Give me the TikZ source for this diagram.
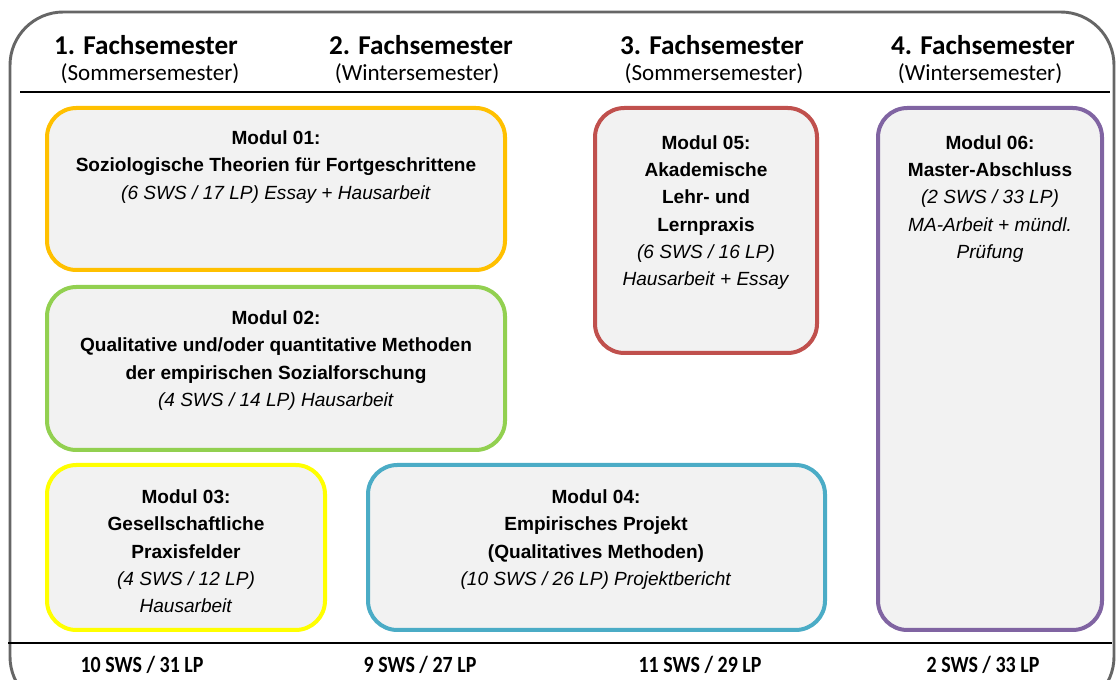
\documentclass[tikz,border=0pt]{standalone}
\usepackage{fontspec}
\setmainfont{Liberation Sans}
\newfontfamily\calibri{Carlito}
\newfontfamily\calibricond[FakeStretch=0.86]{Carlito}
\newfontfamily\arialmod{Liberation Sans}
\usetikzlibrary{fit}
\definecolor{orangeM}{HTML}{FFC000}
\definecolor{greenM}{HTML}{92D050}
\definecolor{yellowM}{HTML}{FFFF00}
\definecolor{blueM}{HTML}{4BACC6}
\definecolor{redM}{HTML}{C0504D}
\definecolor{purpleM}{HTML}{8064A2}
\definecolor{boxfill}{HTML}{F2F2F2}
\definecolor{frameM}{HTML}{666666}
\tikzset{
  modbox/.style={draw=#1, line width=3pt, fill=boxfill, rounded corners=22pt, inner sep=0pt},
  modtext/.style={anchor=north, align=center, inner sep=0pt, font=\arialmod\fontsize{14.3}{20.5}\selectfont},
  semhead/.style={align=center, inner sep=0pt, font=\calibri\bfseries\fontsize{20.4}{22}\selectfont},
  semsub/.style={align=center, inner sep=0pt, font=\calibri\fontsize{17.3}{19}\selectfont},
  total/.style={inner sep=0pt, font=\calibricond\bfseries\fontsize{17.4}{19}\selectfont},
}
\begin{document}
\begin{tikzpicture}[x=0.75pt,y=-0.75pt]
\useasboundingbox (0,0) rectangle (1118,680);
\begin{scope}
\clip (0,0) rectangle (1118,680);
\node[draw=frameM, line width=2.2pt, rounded corners=40pt, inner sep=0pt, fit={(10,12) (1114,710)}] (frame) {};
\end{scope}
% header
\coordinate (hl) at (20,92); \coordinate (hr) at (1110,92);
\draw[line width=1.5pt] (hl) -- (hr);
\coordinate (bl) at (8,643); \coordinate (br) at (1112,643);
\draw[line width=1.5pt] (bl) -- (br);

\node[semhead] (s1) at (146,45) {1. Fachsemester};
\node[semsub] (s1s) at (150,74) {(Sommersemester)};
\node[semhead] (s2) at (421,45) {2. Fachsemester};
\node[semsub] (s2s) at (417,74) {(Wintersemester)};
\node[semhead] (s3) at (712,45) {3. Fachsemester};
\node[semsub] (s3s) at (714,74) {(Sommersemester)};
\node[semhead] (s4) at (983,45) {4. Fachsemester};
\node[semsub] (s4s) at (980,74) {(Wintersemester)};

% modules
\node[modbox=orangeM, fit={(47,108) (505,270)}] (m1) {};
\node[modtext] (m1t) at (276,130.5) {\textbf{Modul 01:}\\\textbf{Soziologische Theorien für Fortgeschrittene}\\\textit{(6 SWS / 17 LP) Essay + Hausarbeit}};

\node[modbox=greenM, fit={(47,287) (505,450)}] (m2) {};
\node[modtext] (m2t) at (276,310.5) {\textbf{Modul 02:}\\\textbf{Qualitative und/oder quantitative Methoden}\\\textbf{der empirischen Sozialforschung}\\\textit{(4 SWS / 14 LP) Hausarbeit}};

\node[modbox=yellowM, fit={(47,465) (325,630)}] (m3) {};
\node[modtext] (m3t) at (186,489.5) {\textbf{Modul 03:}\\\textbf{Gesellschaftliche}\\\textbf{Praxisfelder}\\\textit{(4 SWS / 12 LP)}\\\textit{Hausarbeit}};

\node[modbox=blueM, fit={(368,465) (825,630)}] (m4) {};
\node[modtext] (m4t) at (596,489.5) {\textbf{Modul 04:}\\\textbf{Empirisches Projekt}\\\textbf{(Qualitatives Methoden)}\\\textit{(10 SWS / 26 LP) Projektbericht}};

\node[modbox=redM, fit={(595,108) (817,353)}] (m5) {};
\node[modtext] (m5t) at (706,135) {\textbf{Modul 05:}\\\textbf{Akademische}\\\textbf{Lehr- und}\\\textbf{Lernpraxis}\\\textit{(6 SWS / 16 LP)}\\\textit{Hausarbeit + Essay}};

\node[modbox=purpleM, fit={(878,108) (1102,630)}] (m6) {};
\node[modtext] (m6t) at (990,135) {\textbf{Modul 06:}\\\textbf{Master-Abschluss}\\\textit{(2 SWS / 33 LP)}\\\textit{MA-Arbeit + mündl.}\\\textit{Prüfung}};

% totals
\node[total] (t1) at (142,665) {10 SWS / 31 LP};
\node[total] (t2) at (420,665) {9 SWS / 27 LP};
\node[total] (t3) at (700,665) {11 SWS / 29 LP};
\node[total] (t4) at (983,665) {2 SWS / 33 LP};
\end{tikzpicture}
\end{document}
